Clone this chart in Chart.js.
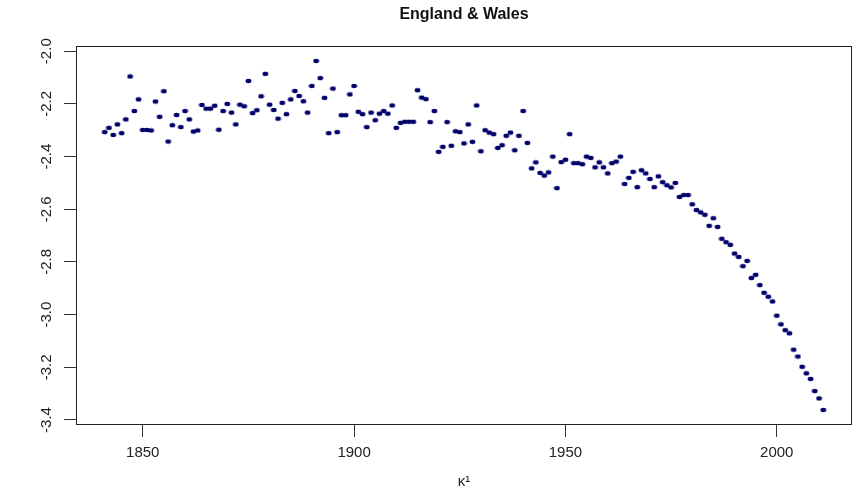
<!DOCTYPE html>
<html>
<head>
<meta charset="utf-8">
<script src="https://cdn.jsdelivr.net/npm/chart.js@4.4.1/dist/chart.umd.min.js"></script>
<style>
  html, body { margin: 0; padding: 0; background: #fff; }
  #wrap { width: 856px; height: 491px; }
</style>
</head>
<body>
<div id="wrap"><canvas id="kappaChart" width="856" height="491"></canvas></div>
<script>
// kappa_1 estimates, one per year starting at firstYear
const firstYear = 1841;
const kappaValues = [
  -2.307, -2.291, -2.318, -2.278, -2.311, -2.259, -2.096, -2.227, -2.183, -2.299,
  -2.299, -2.301, -2.191, -2.249, -2.152, -2.343, -2.281, -2.242, -2.288, -2.227,
  -2.259, -2.305, -2.301, -2.204, -2.218, -2.218, -2.207, -2.298, -2.227, -2.200,
  -2.233, -2.278, -2.203, -2.209, -2.113, -2.235, -2.224, -2.171, -2.086, -2.203,
  -2.223, -2.256, -2.196, -2.239, -2.183, -2.151, -2.170, -2.190, -2.233, -2.132,
  -2.037, -2.102, -2.177, -2.311, -2.142, -2.307, -2.243, -2.243, -2.164, -2.132,
  -2.230, -2.239, -2.288, -2.233, -2.262, -2.237, -2.227, -2.237, -2.206, -2.291,
  -2.272, -2.268, -2.268, -2.268, -2.148, -2.176, -2.182, -2.269, -2.227, -2.382,
  -2.363, -2.269, -2.359, -2.304, -2.307, -2.350, -2.278, -2.344, -2.206, -2.380,
  -2.300, -2.309, -2.315, -2.367, -2.357, -2.321, -2.309, -2.376, -2.321, -2.227,
  -2.348, -2.445, -2.422, -2.462, -2.472, -2.460, -2.400, -2.520, -2.421, -2.412,
  -2.315, -2.425, -2.425, -2.429, -2.400, -2.405, -2.441, -2.422, -2.441, -2.464,
  -2.425, -2.419, -2.400, -2.504, -2.481, -2.458, -2.516, -2.452, -2.464, -2.485,
  -2.516, -2.475, -2.497, -2.509, -2.517, -2.500, -2.553, -2.546, -2.546, -2.581,
  -2.603, -2.612, -2.621, -2.663, -2.634, -2.667, -2.712, -2.725, -2.735, -2.768,
  -2.781, -2.816, -2.796, -2.861, -2.849, -2.888, -2.917, -2.932, -2.950, -3.004,
  -3.037, -3.059, -3.071, -3.133, -3.159, -3.198, -3.223, -3.244, -3.290, -3.318,
  -3.362
];
const xTicks = [1850, 1900, 1950, 2000];
const yTicks = [-3.4, -3.2, -3.0, -2.8, -2.6, -2.4, -2.2, -2.0];

const points = kappaValues.map((v, i) => ({ x: firstYear + i, y: v }));

// R draws slightly squashed dots (picture was stretched), so use a small ellipse
function makeDot() {
  const c = document.createElement('canvas');
  c.width = 7; c.height = 6;
  const g = c.getContext('2d');
  g.fillStyle = '#00006a';
  g.beginPath();
  g.ellipse(3.5, 3, 2.9, 2.2, 0, 0, Math.PI * 2);
  g.fill();
  return c;
}

// box around the plotting region, like R's box()
const boxPlugin = {
  id: 'box',
  afterDraw(chart) {
    const a = chart.chartArea;
    const ctx = chart.ctx;
    ctx.save();
    ctx.strokeStyle = '#222';
    ctx.lineWidth = 1;
    ctx.strokeRect(Math.round(a.left) + 0.5, Math.round(a.top) + 0.5,
      Math.round(a.right - a.left) - 1, Math.round(a.bottom - a.top) - 1);
    ctx.restore();
  }
};

const tickFont = { family: 'Liberation Sans, Arial, sans-serif', size: 15 };

new Chart(document.getElementById('kappaChart').getContext('2d'), {
  type: 'scatter',
  data: {
    datasets: [{
      data: points,
      pointStyle: makeDot(),
      pointRadius: 3,
      pointHoverRadius: 3,
      showLine: false
    }]
  },
  options: {
    responsive: false,
    animation: false,
    events: [],
    layout: { padding: { left: 0, right: 1, top: 0, bottom: 0 } },
    plugins: {
      legend: { display: false },
      tooltip: { enabled: false },
      title: {
        display: true,
        text: 'England & Wales',
        fullSize: false,
        color: '#111',
        font: { family: 'Liberation Sans, Arial, sans-serif', size: 16, weight: 'bold' },
        padding: { top: 5, bottom: 22 }
      }
    },
    scales: {
      x: {
        type: 'linear',
        min: 1834.2,
        max: 2017.8,
        afterBuildTicks: s => { s.ticks = xTicks.map(v => ({ value: v })); },
        afterFit: s => { s.height = 66; },
        grid: { drawOnChartArea: false, drawTicks: true, tickLength: 12, color: '#333' },
        border: { display: false },
        ticks: { font: tickFont, color: '#222', padding: 7, maxRotation: 0, callback: v => String(v) },
        title: {
          display: true,
          text: 'κ¹',
          color: '#222',
          font: { family: 'Liberation Sans, Arial, sans-serif', size: 15 },
          padding: { top: 0, bottom: 0 }
        }
      },
      y: {
        type: 'linear',
        min: -3.419,
        max: -1.981,
        afterBuildTicks: s => { s.ticks = yTicks.map(v => ({ value: v })); },
        afterFit: s => { s.width = 76; },
        grid: { drawOnChartArea: false, drawTicks: true, tickLength: 12, color: '#333' },
        border: { display: false },
        ticks: {
          font: tickFont,
          color: '#222',
          padding: 4,
          minRotation: 90,
          maxRotation: 90,
          crossAlign: 'center',
          callback: v => v.toFixed(1)
        }
      }
    }
  },
  plugins: [boxPlugin]
});
</script>
</body>
</html>
